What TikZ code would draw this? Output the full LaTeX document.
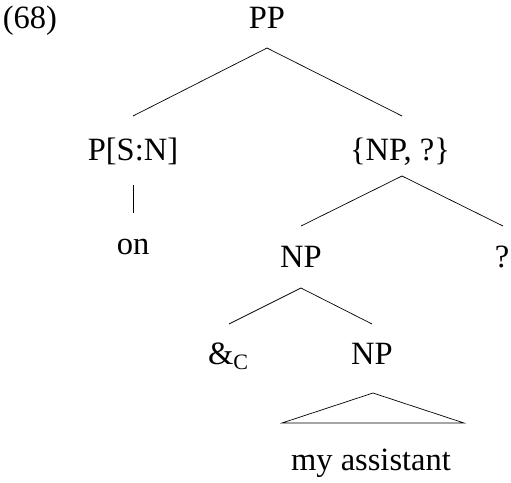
\documentclass[tikz,border=0pt]{standalone}
\usepackage{fontspec}
\setmainfont{Liberation Serif}
\begin{document}
\begin{tikzpicture}[x=1pt,y=-1pt,
  lbl/.style={anchor=base, inner sep=0pt, font=\fontsize{32.5}{38}\selectfont},
  edge/.style={line width=0.7pt, line join=miter}]
\useasboundingbox (0,0) rectangle (511,482);
% labels
\node[lbl] (ex)   at (30,28)  {(68)};
\node[lbl] (pp)   at (267,28) {PP};
\node[lbl] (psn)  at (133,160) {P[S:N]};
\node[lbl] (set)  at (400,160) {\{NP, ?\}};
\node[lbl] (on)   at (133,254) {on};
\node[lbl] (np1)  at (301,267) {NP};
\node[lbl] (q)    at (502,267) {?};
\node[lbl] (amp)  at (228,364) {\&\raisebox{-5pt}{\fontsize{22}{24}\selectfont C}};
\node[lbl] (np2)  at (372,364) {NP};
\node[lbl] (my)   at (371,470) {my assistant};
% connector end points
\coordinate (ppB)   at (267,48);
\coordinate (psnT)  at (133,116);
\coordinate (setT)  at (402,116);
\coordinate (psnB)  at (133,185);
\coordinate (onT)   at (133,213);
\coordinate (setB)  at (402,176);
\coordinate (np1T)  at (301,226);
\coordinate (qT)    at (503,226);
\coordinate (np1B)  at (301,288);
\coordinate (ampT)  at (229,324);
\coordinate (np2T)  at (372,324);
\coordinate (np2B)  at (373,393);
\coordinate (triL)  at (282,423);
\coordinate (triR)  at (464,423);
% connectors
\draw[edge] (psnT) -- (ppB) -- (setT);
\draw[edge] (psnB) -- (onT);
\draw[edge] (np1T) -- (setB) -- (qT);
\draw[edge] (ampT) -- (np1B) -- (np2T);
\draw[edge] (np2B) -- (triL) -- (triR) -- cycle;
\end{tikzpicture}
\end{document}
